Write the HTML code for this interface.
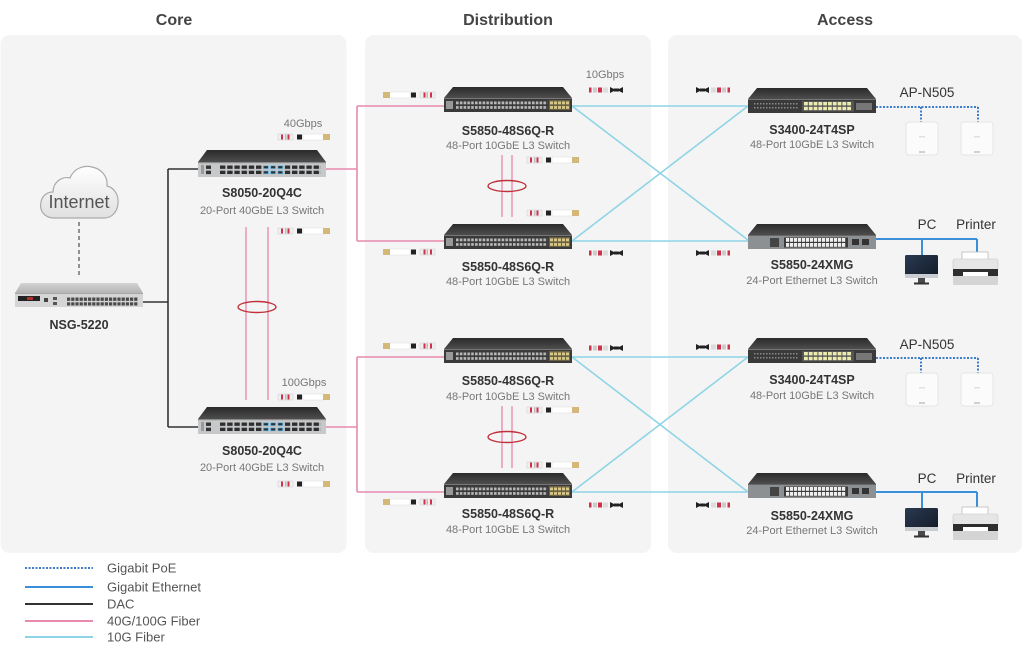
<!DOCTYPE html>
<html><head><meta charset="utf-8"><style>
html,body{margin:0;padding:0;background:#fff;}
svg{display:block;}
</style></head><body>
<svg width="1024" height="654" viewBox="0 0 1024 654" xmlns="http://www.w3.org/2000/svg" xmlns:xlink="http://www.w3.org/1999/xlink" font-family="'Liberation Sans', sans-serif">
<defs>
<linearGradient id="gdark" x1="0" y1="0" x2="0" y2="1"><stop offset="0" stop-color="#2a2a2a"/><stop offset="1" stop-color="#4e4e4e"/></linearGradient>
<linearGradient id="gsilver" x1="0" y1="0" x2="0" y2="1"><stop offset="0" stop-color="#d2d2d2"/><stop offset="1" stop-color="#b4b4b4"/></linearGradient>
<linearGradient id="gcloud" x1="0" y1="0" x2="0" y2="1"><stop offset="0" stop-color="#ffffff"/><stop offset="1" stop-color="#e0e0e0"/></linearGradient>
<linearGradient id="gscreen" x1="0" y1="0" x2="1" y2="1"><stop offset="0" stop-color="#2a3a52"/><stop offset="1" stop-color="#121a26"/></linearGradient>
<pattern id="p8050" x="22" y="15.5" width="7.2" height="5.2" patternUnits="userSpaceOnUse"><rect width="5.4" height="3.4" fill="#2e2e2e"/></pattern>
<pattern id="p8050b" x="22" y="15.5" width="7.2" height="5.2" patternUnits="userSpaceOnUse"><rect x="0.3" y="0.3" width="4.8" height="2.8" fill="#2e2e2e" stroke="#4fb0e6" stroke-width="0.7"/></pattern>
<pattern id="p48" x="12" y="14.5" width="3.8" height="4.6" patternUnits="userSpaceOnUse"><rect width="2.6" height="2.8" fill="#b8b8b8"/></pattern>
<pattern id="p48y" x="106" y="14.5" width="4" height="4.6" patternUnits="userSpaceOnUse"><rect width="3" height="2.8" fill="#d8c98a"/></pattern>
<pattern id="p34y" x="56" y="14" width="4.8" height="4.8" patternUnits="userSpaceOnUse"><rect width="3.8" height="3.4" fill="#ecebb0"/></pattern>
<pattern id="p34g" x="6" y="15" width="3" height="4" patternUnits="userSpaceOnUse"><rect width="1.5" height="1.5" fill="#8a8a8a"/></pattern>
<pattern id="pxmg" x="38" y="14" width="4" height="5" patternUnits="userSpaceOnUse"><rect width="3.2" height="3.8" fill="#eeeeee"/></pattern>
<pattern id="pnsg" x="52" y="14.5" width="4.2" height="4.8" patternUnits="userSpaceOnUse"><rect width="3.2" height="3.4" fill="#4a4a4a"/></pattern>

<g id="s8050">
 <polygon points="9,0 119,0 128,12 0,12" fill="url(#gdark)"/>
 <rect x="0" y="12" width="128" height="15" fill="#c6c8ca"/>
 <rect x="0" y="12" width="128" height="1.2" fill="#8a8a8a"/>
 <rect x="3" y="15" width="3" height="9" fill="#9a9a9a"/>
 <rect x="8" y="15.5" width="5" height="3.4" fill="#333"/>
 <rect x="8" y="20.7" width="5" height="3.4" fill="#333"/>
 <rect x="22" y="15.5" width="100.8" height="8.6" fill="url(#p8050)"/>
 <rect x="65.2" y="15.5" width="21.6" height="8.6" fill="#c6c8ca"/>
 <rect x="65.2" y="15.5" width="21.6" height="8.6" fill="url(#p8050b)"/>
</g>
<g id="s5848">
 <polygon points="9,0 119,0 128,11 0,11" fill="url(#gdark)"/>
 <rect x="0" y="11" width="128" height="14" fill="#3a3a3a"/>
 <rect x="0" y="11" width="128" height="1" fill="#777"/>
 <rect x="2" y="14" width="7" height="8" fill="#999"/>
 <rect x="12" y="14.5" width="91.2" height="7.4" fill="url(#p48)"/>
 <rect x="105" y="13" width="21" height="10" fill="#6b6242"/>
 <rect x="106" y="14.5" width="20" height="7.4" fill="url(#p48y)"/>
</g>
<g id="s3400">
 <polygon points="9,0 119,0 128,11 0,11" fill="url(#gdark)"/>
 <rect x="0" y="11" width="128" height="14" fill="#3a3a3a"/>
 <rect x="0" y="11" width="128" height="1" fill="#777"/>
 <rect x="6" y="15" width="45" height="8" fill="url(#p34g)"/>
 <rect x="54" y="13" width="52" height="10.5" fill="#555"/>
 <rect x="56" y="14" width="48" height="9.2" fill="url(#p34y)"/>
 <rect x="108" y="15" width="16" height="7" fill="#777"/>
</g>
<g id="sxmg">
 <polygon points="9,0 119,0 128,11 0,11" fill="url(#gdark)"/>
 <rect x="0" y="11" width="128" height="14" fill="#8d9093"/>
 <rect x="0" y="11" width="128" height="1" fill="#666"/>
 <rect x="22" y="14" width="9" height="9" fill="#444"/>
 <rect x="36" y="13.5" width="64" height="10" fill="#3a3a3a"/>
 <rect x="38" y="14" width="60" height="9.6" fill="url(#pxmg)"/>
 <rect x="104" y="15" width="7" height="6" fill="#333"/>
 <rect x="114" y="15" width="7" height="6" fill="#333"/>
</g>
<g id="nsg">
 <polygon points="6,0 122,0 128,10 0,10" fill="url(#gsilver)"/>
 <rect x="0" y="10" width="128" height="14" fill="#d5d5d5"/>
 <rect x="0" y="10" width="128" height="1" fill="#a8a8a8"/>
 <rect x="3" y="13" width="22" height="5" fill="#222"/>
 <rect x="12" y="14" width="6" height="3" fill="#b03030"/>
 <rect x="29" y="15" width="4" height="4" fill="#444"/>
 <rect x="38" y="14" width="4" height="3" fill="#555"/>
 <rect x="38" y="19" width="4" height="3" fill="#555"/>
 <rect x="52" y="14.5" width="71" height="8" fill="url(#pnsg)"/>
</g>
<g id="tA">
 <rect x="0" y="0" width="15" height="6" fill="#f0f0f0" stroke="#ccc" stroke-width="0.5"/>
 <rect x="3" y="0.5" width="2" height="5" fill="#d0304a"/>
 <rect x="7" y="0.5" width="1.5" height="5" fill="#bbb"/>
 <rect x="9.5" y="0.5" width="2" height="5" fill="#d0304a"/>
 <rect x="19" y="0.5" width="5" height="5" fill="#222"/>
 <rect x="25" y="0" width="21" height="6" fill="#fff" stroke="#ddd" stroke-width="0.5"/>
 <rect x="45" y="0" width="7" height="6" fill="#d6b77a"/>
</g>
<g id="tC">
 <rect x="1" y="0.5" width="2.5" height="5" fill="#d0304a"/>
 <rect x="5" y="0.5" width="4" height="5" fill="#ccc"/>
 <rect x="10" y="0.5" width="4" height="5" fill="#d0304a"/>
 <rect x="15" y="0.5" width="5" height="5" fill="#ddd"/>
 <polygon points="22,0 28,3 22,6" fill="#222"/>
 <polygon points="35,0 29,3 35,6" fill="#222"/>
 <rect x="26" y="1.5" width="5" height="3" fill="#222"/>
</g>
<g id="ap">
 <rect x="0" y="0" width="32" height="33" rx="3" fill="#fbfbfb" stroke="#e4e4e4" stroke-width="1"/>
 <rect x="13" y="14" width="6" height="1.5" fill="#e0e0e0"/>
 <rect x="13" y="29" width="6" height="2" fill="#d0d0d0"/>
</g>
<g id="monitor">
 <rect x="0" y="0" width="33" height="23" rx="1.5" fill="url(#gscreen)"/>
 <rect x="0" y="19" width="33" height="4" fill="#c9cdd1"/>
 <rect x="13" y="23" width="7" height="5" fill="#4a4a4a"/>
 <rect x="9" y="27.5" width="15" height="2" fill="#333"/>
</g>
<g id="printer">
 <rect x="9" y="0" width="26" height="9" fill="#fff" stroke="#bbb" stroke-width="0.8"/>
 <rect x="0" y="7" width="45" height="11" rx="2" fill="#e6e6e6" stroke="#c4c4c4" stroke-width="0.6"/>
 <rect x="0" y="17" width="45" height="7" fill="#2e2e2e"/>
 <rect x="10" y="20" width="25" height="4" fill="#fff"/>
 <rect x="0" y="24" width="45" height="9" rx="1" fill="#d4d4d4"/>
</g>
</defs>

<!-- panels -->
<rect x="0.5" y="35" width="346" height="518" rx="9" fill="#f4f4f4"/>
<rect x="365" y="35" width="286" height="518" rx="9" fill="#f4f4f4"/>
<rect x="668" y="35" width="354" height="518" rx="9" fill="#f4f4f4"/>

<!-- titles -->
<text x="174" y="25" text-anchor="middle" font-size="16" font-weight="bold" fill="#444">Core</text>
<text x="508" y="25" text-anchor="middle" font-size="16" font-weight="bold" fill="#444">Distribution</text>
<text x="845" y="25" text-anchor="middle" font-size="16" font-weight="bold" fill="#444">Access</text>

<!-- lines -->
<g fill="none">
 <path d="M572 106 H748 M572 106 L748 240 M572 241 H748 M572 241 L748 106 M572 357 H748 M572 357 L748 492 M572 492 H748 M572 492 L748 357" stroke="#8fd4e6" stroke-width="1.6"/>
 <path d="M326 169 H357 M357 106 V241 M357 106 H444 M357 241 H444 M326 427 H357 M357 357 V492 M357 357 H444 M357 492 H444" stroke="#e78aae" stroke-width="1.6"/>
 <path d="M246 227 V400 M268 227 V400 M502 155 V217 M512 155 V217 M502 406 V468 M512 406 V468" stroke="#ea93b6" stroke-width="1.5"/>
 <path d="M143 302 H168 M168 169 V427 M168 169 H198 M168 427 H198" stroke="#333" stroke-width="1.6"/>
 <path d="M79 222 V278" stroke="#777" stroke-width="1.6" stroke-dasharray="4 3"/>
 <path d="M876 107 H978 M921 107 V122 M978 107 V122 M876 358 H978 M921 358 V373 M978 358 V373" stroke="#3e7ec8" stroke-width="2" stroke-dasharray="2 1.5"/>
 <path d="M876 239 H977 M922 239 V255 M977 239 V253 M876 492 H977 M922 492 V508 M977 492 V508" stroke="#3b8fd8" stroke-width="2"/>
 <ellipse cx="257" cy="307" rx="19" ry="5.5" stroke="#c0303a" stroke-width="1.4"/>
 <ellipse cx="507" cy="186" rx="19" ry="5.5" stroke="#c0303a" stroke-width="1.4"/>
 <ellipse cx="507" cy="437" rx="19" ry="5.5" stroke="#c0303a" stroke-width="1.4"/>
</g>

<!-- cloud -->
<path d="M54 218 C44 218 39 210 41 202 C42 196 47 192 53 192 C53 182 62 176 70 178 C74 168 84 165 92 167 C102 169 108 177 107 186 C115 188 119 196 118 204 C117 212 112 218 104 218 Z" fill="url(#gcloud)" stroke="#aaa" stroke-width="1.2"/>
<text x="79" y="208" text-anchor="middle" font-size="18" fill="#555">Internet</text>

<!-- devices -->
<use xlink:href="#nsg" x="15" y="283"/>
<use xlink:href="#s8050" x="198" y="150"/>
<use xlink:href="#s8050" x="198" y="407"/>
<use xlink:href="#s5848" x="444" y="87"/>
<use xlink:href="#s5848" x="444" y="224"/>
<use xlink:href="#s5848" x="444" y="338"/>
<use xlink:href="#s5848" x="444" y="473"/>
<use xlink:href="#s3400" x="748" y="88"/>
<use xlink:href="#sxmg" x="748" y="224"/>
<use xlink:href="#s3400" x="748" y="338"/>
<use xlink:href="#sxmg" x="748" y="473"/>

<use xlink:href="#ap" x="906" y="122"/>
<use xlink:href="#ap" x="961" y="122"/>
<use xlink:href="#ap" x="906" y="373"/>
<use xlink:href="#ap" x="961" y="373"/>
<use xlink:href="#monitor" x="905" y="255"/>
<use xlink:href="#printer" x="953" y="252"/>
<use xlink:href="#monitor" x="905" y="508"/>
<use xlink:href="#printer" x="953" y="507"/>

<!-- transceivers -->
<use xlink:href="#tA" x="278" y="134"/>
<use xlink:href="#tA" x="278" y="228"/>
<use xlink:href="#tA" x="278" y="394"/>
<use xlink:href="#tA" x="278" y="481"/>
<use xlink:href="#tA" transform="translate(435,92) scale(-1,1)"/>
<use xlink:href="#tA" transform="translate(435,249) scale(-1,1)"/>
<use xlink:href="#tA" transform="translate(435,343) scale(-1,1)"/>
<use xlink:href="#tA" transform="translate(435,499) scale(-1,1)"/>
<use xlink:href="#tA" x="527" y="157"/>
<use xlink:href="#tA" x="527" y="210"/>
<use xlink:href="#tA" x="527" y="407"/>
<use xlink:href="#tA" x="527" y="462"/>
<use xlink:href="#tC" x="588" y="87"/>
<use xlink:href="#tC" x="588" y="250"/>
<use xlink:href="#tC" x="588" y="345"/>
<use xlink:href="#tC" x="588" y="502"/>
<use xlink:href="#tC" transform="translate(731,87) scale(-1,1)"/>
<use xlink:href="#tC" transform="translate(731,250) scale(-1,1)"/>
<use xlink:href="#tC" transform="translate(731,344) scale(-1,1)"/>
<use xlink:href="#tC" transform="translate(731,502) scale(-1,1)"/>

<!-- labels -->
<g text-anchor="middle">
 <text x="79" y="329" font-size="12.5" font-weight="bold" fill="#333">NSG-5220</text>
 <text x="303" y="127" font-size="11" fill="#777">40Gbps</text>
 <text x="304" y="386" font-size="11" fill="#777">100Gbps</text>
 <text x="605" y="78" font-size="11" fill="#777">10Gbps</text>

 <text x="262" y="197" font-size="12.5" font-weight="bold" fill="#333">S8050-20Q4C</text>
 <text x="262" y="214" font-size="11" fill="#777">20-Port 40GbE L3 Switch</text>
 <text x="262" y="455" font-size="12.5" font-weight="bold" fill="#333">S8050-20Q4C</text>
 <text x="262" y="471" font-size="11" fill="#777">20-Port 40GbE L3 Switch</text>

 <text x="508" y="135" font-size="12.5" font-weight="bold" fill="#333">S5850-48S6Q-R</text>
 <text x="508" y="149" font-size="11" fill="#777">48-Port 10GbE L3 Switch</text>
 <text x="508" y="271" font-size="12.5" font-weight="bold" fill="#333">S5850-48S6Q-R</text>
 <text x="508" y="285" font-size="11" fill="#777">48-Port 10GbE L3 Switch</text>
 <text x="508" y="385" font-size="12.5" font-weight="bold" fill="#333">S5850-48S6Q-R</text>
 <text x="508" y="400" font-size="11" fill="#777">48-Port 10GbE L3 Switch</text>
 <text x="508" y="518" font-size="12.5" font-weight="bold" fill="#333">S5850-48S6Q-R</text>
 <text x="508" y="533" font-size="11" fill="#777">48-Port 10GbE L3 Switch</text>

 <text x="812" y="134" font-size="12.5" font-weight="bold" fill="#333">S3400-24T4SP</text>
 <text x="812" y="148" font-size="11" fill="#777">48-Port 10GbE L3 Switch</text>
 <text x="812" y="269" font-size="12.5" font-weight="bold" fill="#333">S5850-24XMG</text>
 <text x="812" y="284" font-size="11" fill="#777">24-Port Ethernet L3 Switch</text>
 <text x="812" y="384" font-size="12.5" font-weight="bold" fill="#333">S3400-24T4SP</text>
 <text x="812" y="399" font-size="11" fill="#777">48-Port 10GbE L3 Switch</text>
 <text x="812" y="520" font-size="12.5" font-weight="bold" fill="#333">S5850-24XMG</text>
 <text x="812" y="534" font-size="11" fill="#777">24-Port Ethernet L3 Switch</text>

 <text x="927" y="97" font-size="13.5" fill="#333">AP-N505</text>
 <text x="927" y="349" font-size="13.5" fill="#333">AP-N505</text>
 <text x="927" y="229" font-size="13.5" fill="#333">PC</text>
 <text x="976" y="229" font-size="13.5" fill="#333">Printer</text>
 <text x="927" y="483" font-size="13.5" fill="#333">PC</text>
 <text x="976" y="483" font-size="13.5" fill="#333">Printer</text>
</g>

<!-- legend -->
<g fill="none" stroke-width="2">
 <path d="M25 568 H93" stroke="#3e7ec8" stroke-dasharray="2 1.5"/>
 <path d="M25 587 H93" stroke="#3b8fd8"/>
 <path d="M25 604 H93" stroke="#333"/>
 <path d="M25 621 H93" stroke="#e78aae"/>
 <path d="M25 637 H93" stroke="#8fd4e6"/>
</g>
<g font-size="13" fill="#555">
 <text x="107" y="572.5">Gigabit PoE</text>
 <text x="107" y="591.5">Gigabit Ethernet</text>
 <text x="107" y="608.5">DAC</text>
 <text x="107" y="625.5">40G/100G Fiber</text>
 <text x="107" y="641.5">10G Fiber</text>
</g>
</svg>
</body></html>
